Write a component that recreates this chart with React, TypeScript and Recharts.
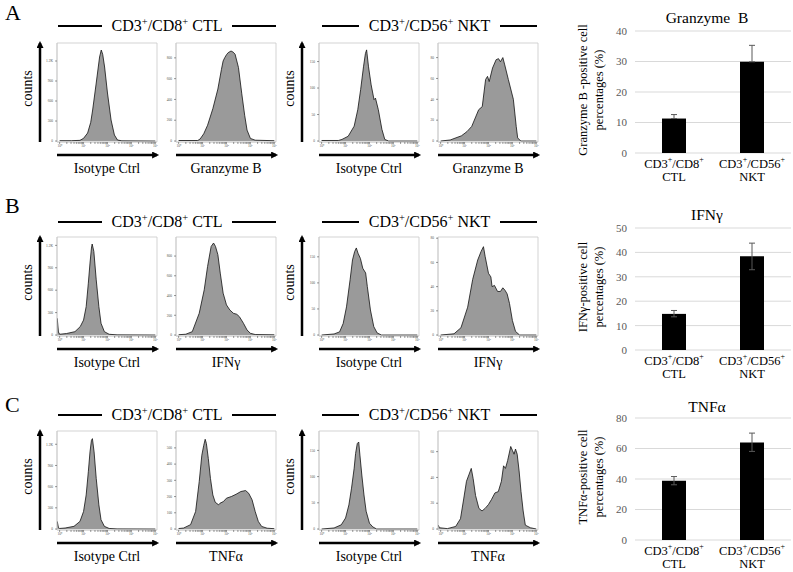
import React from "react"
import {
  AreaChart,
  Area,
  BarChart,
  Bar,
  ErrorBar,
  CartesianGrid,
  XAxis,
  YAxis,
  ReferenceArea,
} from "recharts"

const SERIF = "'Liberation Serif', 'Times New Roman', serif"

// flow histograms: [log10 fluorescence, events]
const ctlIsoGrzb: [number, number][] = [
  [0, 5], [0.5, 5], [0.85, 10], [1.0, 40], [1.17, 120], [1.3, 280], [1.38, 465], [1.53, 870],
  [1.67, 1260], [1.74, 1365], [1.8, 1300], [1.88, 1110], [2.0, 720], [2.15, 315], [2.29, 90],
  [2.42, 15], [2.6, 3], [4, 0],
]
const ctlGrzb: [number, number][] = [
  [0, 5], [0.8, 5], [0.9, 20], [1.05, 70], [1.21, 152], [1.43, 311], [1.64, 500], [1.79, 690],
  [1.86, 770], [1.93, 803], [2.0, 830], [2.07, 850], [2.19, 866], [2.28, 855], [2.36, 835],
  [2.5, 708], [2.64, 454], [2.76, 248], [2.86, 105], [3.0, 25], [3.2, 8], [4, 3],
]
const nktIsoGrzb: [number, number][] = [
  [0, 1], [0.7, 1], [0.85, 3], [1.11, 9], [1.36, 28], [1.51, 59], [1.63, 97], [1.75, 140],
  [1.83, 165], [1.88, 172], [1.96, 140], [2.07, 106], [2.19, 78], [2.25, 81], [2.37, 59],
  [2.52, 22], [2.64, 3], [2.8, 0], [4, 0],
]
const nktGrzb: [number, number][] = [
  [0, 0], [0.4, 1], [0.87, 5], [1.1, 9], [1.3, 14], [1.59, 30], [1.74, 33], [1.88, 59],
  [1.96, 62], [2.03, 57], [2.17, 70], [2.32, 78], [2.42, 79], [2.5, 76], [2.6, 80], [2.68, 73],
  [2.83, 59], [3.04, 40], [3.16, 14], [3.22, 3], [3.35, 0], [4, 0],
]
const ctlIsoIfng: [number, number][] = [
  [-0.1, 224], [-0.05, 40], [0, 10], [0.29, 20], [0.64, 45], [0.86, 112], [1.0, 200], [1.11, 380],
  [1.2, 694], [1.27, 963], [1.33, 1164], [1.36, 1218], [1.43, 1119], [1.53, 739], [1.64, 380],
  [1.73, 157], [1.87, 45], [2.07, 10], [2.4, 2], [4, 0],
]
const ctlIfng: [number, number][] = [
  [0, 3], [0.3, 8], [0.57, 34], [0.86, 220], [1.07, 458], [1.21, 695], [1.36, 898], [1.46, 932],
  [1.54, 898], [1.64, 814], [1.74, 627], [1.86, 424], [2.0, 305], [2.14, 254], [2.29, 220],
  [2.43, 210], [2.54, 186], [2.71, 119], [2.86, 51], [3.0, 17], [3.2, 5], [4, 2],
]
const nktIsoIfng: [number, number][] = [
  [0, 0], [0.52, 2], [0.75, 6], [0.9, 22], [1.04, 54], [1.19, 106], [1.29, 144], [1.38, 160],
  [1.45, 167], [1.52, 157], [1.62, 147], [1.72, 128], [1.84, 119], [1.91, 93], [2.04, 48],
  [2.18, 16], [2.32, 4], [2.5, 0], [4, 0],
]
const nktIfng: [number, number][] = [
  [0, 0], [0.56, 1], [0.85, 6], [1.13, 23], [1.34, 46], [1.55, 62], [1.69, 69], [1.79, 73],
  [1.86, 65], [2.0, 51], [2.1, 48], [2.15, 40], [2.25, 41], [2.38, 36], [2.5, 36], [2.6, 39],
  [2.69, 37], [2.78, 34], [2.88, 26], [3.0, 12], [3.13, 3], [3.3, 0], [4, 0],
]
const ctlIsoTnfa: [number, number][] = [
  [-0.1, 108], [-0.05, 20], [0, 8], [0.23, 14], [0.6, 38], [0.85, 108], [1.0, 248], [1.11, 483],
  [1.2, 811], [1.27, 1092], [1.33, 1256], [1.37, 1280], [1.44, 1092], [1.53, 717], [1.64, 342],
  [1.73, 131], [1.87, 38], [2.07, 8], [2.4, 2], [4, 0],
]
const ctlTnfa: [number, number][] = [
  [0, 3], [0.21, 6], [0.5, 27], [0.71, 108], [0.86, 292], [0.97, 455], [1.05, 516], [1.11, 553],
  [1.16, 527], [1.24, 435], [1.33, 312], [1.43, 210], [1.53, 165], [1.67, 149], [1.73, 159],
  [1.87, 169], [2.0, 190], [2.2, 200], [2.4, 214], [2.6, 231], [2.8, 237], [2.93, 220],
  [3.07, 180], [3.2, 108], [3.33, 47], [3.47, 16], [3.7, 5], [4, 2],
]
const nktIsoTnfa: [number, number][] = [
  [0, 0], [0.52, 2], [0.82, 8], [1.0, 21], [1.14, 46], [1.25, 78], [1.36, 116], [1.42, 144],
  [1.49, 163], [1.55, 166], [1.6, 141], [1.68, 103], [1.77, 65], [1.86, 34], [2.0, 11],
  [2.14, 4], [2.3, 0], [4, 0],
]
const nktTnfa: [number, number][] = [
  [-0.1, 3], [-0.05, 1], [0.28, 0.3], [0.63, 2], [0.83, 8], [0.97, 24], [1.08, 37], [1.18, 42],
  [1.28, 47], [1.36, 39], [1.46, 26], [1.6, 16], [1.73, 14], [1.86, 16], [2.0, 19], [2.13, 23],
  [2.27, 28], [2.41, 29], [2.54, 37], [2.63, 49], [2.71, 47], [2.8, 53], [2.93, 64], [3.0, 61],
  [3.07, 58], [3.13, 62], [3.2, 58], [3.28, 45], [3.36, 29], [3.45, 14], [3.54, 3], [3.75, 1],
  [4, 0],
]

// count axes of each panel
const ticksK = [0, 300, 600, 900, 1200]
const ticks800 = [0, 200, 400, 600, 800]
const ticks500 = [0, 100, 200, 300, 400, 500]
const ticks150 = [0, 50, 100, 150]
const ticks80 = [0, 20, 40, 60, 80]
const ticks60 = [0, 20, 40, 60]

const decadeTicks = [0, 1, 2, 3, 4]
const decadeLabels = ["10⁰", "10¹", "10²", "10³", "10⁴"]

// bar charts
const groupLine1 = ["CD3+/CD8+", "CD3+/CD56+"]
const groupLine2 = ["CTL", "NKT"]
const grzbMean = [11.3, 29.9]
const grzbErr: [number, number][] = [[0, 1.3], [0, 5.4]]
const ifngMean = [14.8, 38.4]
const ifngErr: [number, number][] = [[1.2, 1.4], [5.5, 5.4]]
const tnfaMean = [38.8, 64.0]
const tnfaErr: [number, number][] = [[2.6, 2.8], [5.9, 6.1]]
const grzbTicks = [0, 10, 20, 30, 40]
const ifngTicks = [0, 10, 20, 30, 40, 50]
const tnfaTicks = [0, 20, 40, 60, 80]

const rowLetters = ["A", "B", "C"]
const markerNames = ["Granzyme B", "IFNγ", "TNFα"]
const barTitles = ["Granzyme  B", "IFNγ", "TNFα"]
const yLabelLine1 = ["Granzyme B -positive cell", "IFNγ-positive cell", "TNFα-positive cell"]

const X_DOMAIN: [number, number] = [-0.11, 4.07]
const minorTicks = decadeTicks
  .slice(0, -1)
  .flatMap((d) => [2, 3, 4, 5, 6, 7, 8, 9].map((k) => d + Math.log10(k)))
const xTicks = [...decadeTicks, ...minorTicks].sort((a, b) => a - b)

function fmtCount(v: number) {
  return v >= 1000 ? `${v / 1000}K` : `${v}`
}

function fmtDecade(v: number) {
  const i = decadeTicks.indexOf(v)
  return i >= 0 ? decadeLabels[i] : ""
}

function supSvg(text: string, size: number) {
  const parts = text.split("+")
  return parts.map((p, i) => (
    <React.Fragment key={i}>
      {p}
      {i < parts.length - 1 && (
        <tspan baselineShift="super" fontSize={size}>
          +
        </tspan>
      )}
    </React.Fragment>
  ))
}

function supHtml(text: string) {
  const parts = text.split("+")
  return parts.map((p, i) => (
    <React.Fragment key={i}>
      {p}
      {i < parts.length - 1 && (
        <sup style={{ fontSize: "65%", lineHeight: 0, verticalAlign: "0.55em" }}>+</sup>
      )}
    </React.Fragment>
  ))
}

type HistProps = {
  id: string
  data: [number, number][]
  yTicks: number[]
  yMax: number
  label: string
  counts: boolean
  left: number
  top: number
}

function CountsLabel(props: any) {
  const { viewBox } = props
  const cx = viewBox.x + viewBox.width / 2
  const cy = viewBox.y + viewBox.height / 2 - 4
  return (
    <text
      x={cx}
      y={cy}
      transform={`rotate(-90 ${cx} ${cy})`}
      textAnchor="middle"
      dominantBaseline="central"
      fontSize={14}
      fontFamily={SERIF}
      fill="#000"
    >
      counts
    </text>
  )
}

function Histogram({ id, data, yTicks, yMax, label, counts, left, top }: HistProps) {
  const rows = data.map(([x, y]) => ({ x, y }))
  const axisW = 17
  const arrowW = counts ? 26 : 0
  const mTop = 6
  const mRight = 6
  const yMin = -yMax * 0.01
  return (
    <div style={{ position: "absolute", left: left - axisW - arrowW, top: top - mTop }}>
      <AreaChart
        width={arrowW + axisW + 100 + mRight}
        height={mTop + 99 + 13 + 26}
        data={rows}
        margin={{ top: mTop, right: mRight, bottom: 0, left: 0 }}
      >
        <defs>
          <marker
            id={`head-${id}`}
            viewBox="0 0 10 10"
            refX={7}
            refY={5}
            markerUnits="userSpaceOnUse"
            markerWidth={8}
            markerHeight={7}
            orient="auto-start-reverse"
          >
            <path d="M0,0 L10,5 L0,10 z" fill="#000" />
          </marker>
        </defs>
        <XAxis
          xAxisId="a"
          dataKey="x"
          type="number"
          domain={X_DOMAIN}
          allowDataOverflow
          ticks={xTicks}
          interval={0}
          tickFormatter={fmtDecade}
          tick={{ fontSize: 3.5, fill: "#555", fontFamily: SERIF }}
          tickSize={2}
          tickMargin={1}
          tickLine={{ stroke: "#333", strokeWidth: 0.5 }}
          axisLine={{ stroke: "#c8c8c8", strokeWidth: 0.8 }}
          height={13}
        />
        <XAxis
          xAxisId="b"
          type="number"
          domain={[0, 1]}
          allowDataOverflow
          tick={false}
          tickLine={false}
          height={26}
          axisLine={{ stroke: "#000", strokeWidth: 2.5, markerEnd: `url(#head-${id})` }}
          label={{ value: label, position: "center", fontSize: 14, fill: "#000", fontFamily: SERIF }}
        />
        <YAxis
          yAxisId="a"
          type="number"
          domain={[yMin, yMax]}
          allowDataOverflow
          ticks={yTicks}
          interval={0}
          tickFormatter={fmtCount}
          tick={{ fontSize: 3.5, fill: "#555", fontFamily: SERIF }}
          tickSize={2}
          tickMargin={2}
          tickLine={{ stroke: "#333", strokeWidth: 0.5 }}
          axisLine={{ stroke: "#c8c8c8", strokeWidth: 0.8 }}
          width={axisW}
        />
        {counts && (
          <YAxis
            yAxisId="b"
            type="number"
            domain={[0, 1]}
            allowDataOverflow
            tick={false}
            tickLine={false}
            width={arrowW}
            axisLine={{ stroke: "#000", strokeWidth: 2.5, markerStart: `url(#head-${id})` }}
            label={<CountsLabel />}
          />
        )}
        <ReferenceArea
          xAxisId="a"
          yAxisId="a"
          x1={X_DOMAIN[0]}
          x2={X_DOMAIN[1]}
          y1={yMin}
          y2={yMax}
          fill="none"
          stroke="#c8c8c8"
          strokeWidth={0.8}
        />
        <Area
          xAxisId="a"
          yAxisId="a"
          dataKey="y"
          type="linear"
          stroke="#111"
          strokeWidth={0.8}
          fill="#9a9a9a"
          fillOpacity={1}
          dot={false}
          activeDot={false}
          isAnimationActive={false}
        />
      </AreaChart>
    </div>
  )
}

function GroupTick(props: any) {
  const { x, y, payload } = props
  const i = groupLine2.indexOf(payload.value)
  return (
    <g fontFamily={SERIF}>
      <text x={x} y={y + 11} textAnchor="middle" dominantBaseline="central" fontSize={12.5} fill="#000">
        {supSvg(groupLine1[i], 8)}
      </text>
      <text x={x} y={y + 24} textAnchor="middle" dominantBaseline="central" fontSize={12.5} fill="#000">
        {groupLine2[i]}
      </text>
    </g>
  )
}

function PctLabel(props: any) {
  const { viewBox, line1 } = props
  const cx = viewBox.x + 31
  const cy = viewBox.y + viewBox.height / 2 - 2
  return (
    <g transform={`translate(${cx},${cy}) rotate(-90)`} fontFamily={SERIF}>
      <text x={0} y={-8} textAnchor="middle" dominantBaseline="central" fontSize={12.5} fill="#000">
        {line1}
      </text>
      <text x={0} y={8} textAnchor="middle" dominantBaseline="central" fontSize={12.5} fill="#000">
        percentages (%)
      </text>
    </g>
  )
}

type BarsProps = {
  means: number[]
  errs: [number, number][]
  ticks: number[]
  title: string
  line1: string
  plotTop: number
  titleY: number
}

function PercentBars({ means, errs, ticks, title, line1, plotTop, titleY }: BarsProps) {
  const rows = groupLine2.map((g, i) => ({ group: g, value: means[i], err: errs[i] }))
  const mTop = 16
  return (
    <>
      <div
        style={{
          position: "absolute",
          left: 627,
          width: 160,
          top: titleY - 10,
          height: 20,
          lineHeight: "20px",
          textAlign: "center",
          fontSize: 15.5,
          whiteSpace: "pre",
        }}
      >
        {title}
      </div>
      <div style={{ position: "absolute", left: 560, top: plotTop - mTop }}>
        <BarChart width={233} height={mTop + 122 + 34} data={rows} margin={{ top: mTop, right: 2, bottom: 0, left: 0 }}>
          <CartesianGrid vertical={false} stroke="#d9d9d9" />
          <XAxis
            dataKey="group"
            axisLine={false}
            tickLine={false}
            tickSize={0}
            tickMargin={0}
            height={34}
            interval={0}
            tick={<GroupTick />}
          />
          <YAxis
            type="number"
            domain={[0, ticks[ticks.length - 1]]}
            ticks={ticks}
            interval={0}
            width={75}
            axisLine={false}
            tickLine={false}
            tickSize={0}
            tickMargin={8}
            tick={{ fontSize: 11, fill: "#595959", fontFamily: SERIF }}
            label={<PctLabel line1={line1} />}
          />
          <Bar dataKey="value" fill="#000" barSize={24} isAnimationActive={false}>
            <ErrorBar dataKey="err" width={3} stroke="#595959" strokeWidth={1} direction="y" />
          </Bar>
        </BarChart>
      </div>
    </>
  )
}

function GroupHeader({ left, width, centerY, text }: { left: number; width: number; centerY: number; text: string }) {
  return (
    <div
      style={{
        position: "absolute",
        left,
        width,
        top: centerY - 10,
        height: 20,
        display: "flex",
        alignItems: "center",
        fontSize: 16,
        lineHeight: "20px",
      }}
    >
      <div style={{ flex: 1, height: 2, background: "#000" }} />
      <div style={{ margin: "0 10px", whiteSpace: "nowrap" }}>{supHtml(text)}</div>
      <div style={{ flex: 1, height: 2, background: "#000" }} />
    </div>
  )
}

const panelLefts = [57, 176, 319, 438]
const boxTops = [43, 237, 431]
const headerYs = [26, 222, 415]
const letterTops = [1.6, 194.6, 394]
const barPlotTops = [31, 228, 418]
const barTitleYs = [18, 215, 407]

const histRows = [
  [ctlIsoGrzb, ctlGrzb, nktIsoGrzb, nktGrzb],
  [ctlIsoIfng, ctlIfng, nktIsoIfng, nktIfng],
  [ctlIsoTnfa, ctlTnfa, nktIsoTnfa, nktTnfa],
]
const histTicks = [
  [ticksK, ticks800, ticks150, ticks80],
  [ticksK, ticks800, ticks150, ticks80],
  [ticksK, ticks500, ticks150, ticks60],
]
const histTops = [
  [1470, 943, 185, 94],
  [1312, 993, 188, 81],
  [1388, 604, 187, 76],
]
const barMeans = [grzbMean, ifngMean, tnfaMean]
const barErrs = [grzbErr, ifngErr, tnfaErr]
const barTicks = [grzbTicks, ifngTicks, tnfaTicks]

export default function App() {
  return (
    <div
      style={{
        position: "absolute",
        left: 0,
        top: 0,
        width: 793,
        height: 572,
        background: "#fff",
        fontFamily: SERIF,
        color: "#000",
        overflow: "hidden",
      }}
    >
      {rowLetters.map((letter, r) => (
        <React.Fragment key={letter}>
          <div
            style={{
              position: "absolute",
              left: 5,
              top: letterTops[r],
              fontSize: 22,
              lineHeight: "22px",
            }}
          >
            {letter}
          </div>
          <GroupHeader left={58} width={218} centerY={headerYs[r]} text="CD3+/CD8+ CTL" />
          <GroupHeader left={322} width={215} centerY={headerYs[r]} text="CD3+/CD56+ NKT" />
          {histRows[r].map((data, p) => (
            <Histogram
              key={p}
              id={`${r}-${p}`}
              data={data}
              yTicks={histTicks[r][p]}
              yMax={histTops[r][p]}
              label={p % 2 === 0 ? "Isotype Ctrl" : markerNames[r]}
              counts={p % 2 === 0}
              left={panelLefts[p]}
              top={boxTops[r]}
            />
          ))}
          <PercentBars
            means={barMeans[r]}
            errs={barErrs[r]}
            ticks={barTicks[r]}
            title={barTitles[r]}
            line1={yLabelLine1[r]}
            plotTop={barPlotTops[r]}
            titleY={barTitleYs[r]}
          />
        </React.Fragment>
      ))}
    </div>
  )
}
